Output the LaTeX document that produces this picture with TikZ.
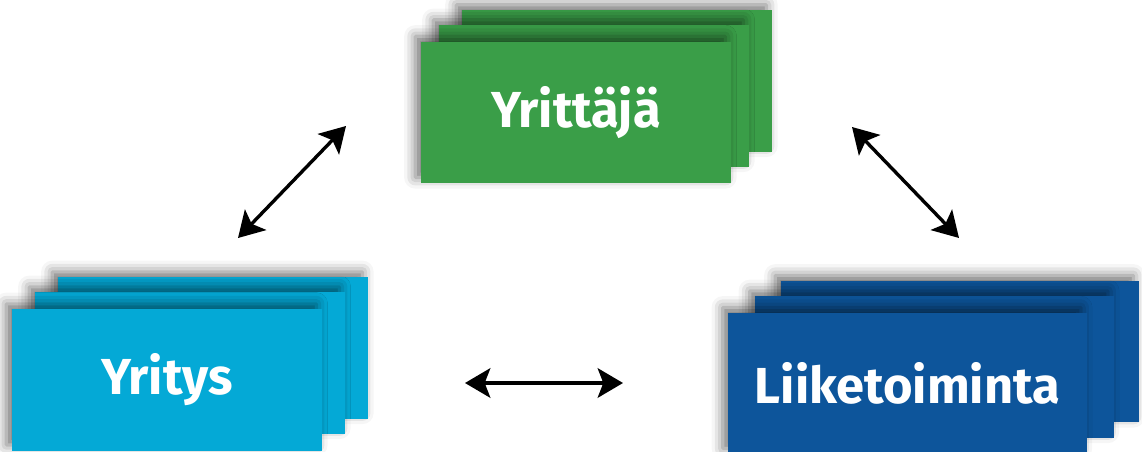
\documentclass[tikz,border=0pt]{standalone}
\usepackage{fontspec}
\setsansfont{Fira Sans}
\usetikzlibrary{arrows.meta,shadows.blur}
\definecolor{yrgreen}{RGB}{58,158,72}
\definecolor{ytcyan}{RGB}{4,169,214}
\definecolor{ltblue}{RGB}{13,85,155}
\begin{document}
\begin{tikzpicture}[x=0.025cm, y=-0.025cm]
		\tikzstyle{card}=[rectangle,inner sep=0pt,minimum width=7.75cm,minimum height=3.525cm,text=white,font=\sffamily\bfseries\fontsize{36}{40}\selectfont,blur shadow={shadow xshift=-4pt,shadow yshift=4pt,shadow blur radius=8pt,shadow opacity=55}]
		\tikzstyle{link}=[{Stealth[length=18pt,width=21pt,inset=4pt]}-{Stealth[length=18pt,width=21pt,inset=4pt]},line width=2.4pt]
		\useasboundingbox (0,0) rectangle (1142,452);
		% Yrittaja
		\node[card,fill=yrgreen](yr3)at(617,81){};
		\node[card,fill=yrgreen](yr2)at(594,96){};
		\node[card,fill=yrgreen](yr)at(576,112.5){Yrittäjä};
		% Yritys
		\node[card,fill=ytcyan](yt3)at(213,348){};
		\node[card,fill=ytcyan](yt2)at(190,363){};
		\node[card,fill=ytcyan](yt)at(167,380){Yritys};
		% Liiketoiminta
		\node[card,fill=ltblue,minimum width=8.95cm](lt3)at(960,351.5){};
		\node[card,fill=ltblue,minimum width=8.95cm](lt2)at(934.5,367){};
		\node[card,fill=ltblue,minimum width=8.95cm](lt)at(907.5,383.5){Liiketoiminta};
		\coordinate (a1) at (238,238);
		\coordinate (a2) at (346,126);
		\coordinate (b1) at (852,127);
		\coordinate (b2) at (959,238);
		\coordinate (c1) at (465,383);
		\coordinate (c2) at (623,383);
		\draw[link]{
			(a1) -- (a2)
		};
		\draw[link]{
			(b1) -- (b2)
		};
		\draw[link]{
			(c1) -- (c2)
		};
		\end{tikzpicture}
\end{document}
